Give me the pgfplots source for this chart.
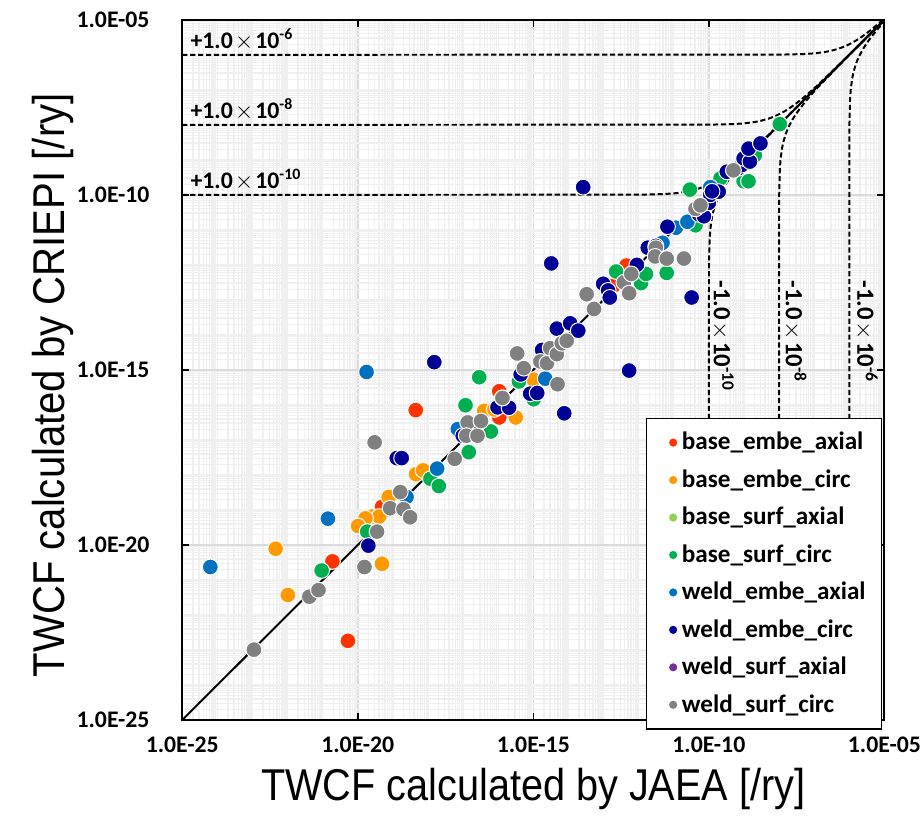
\documentclass[border=0pt]{standalone}
\usepackage{graphicx}
\usepackage{pgfplots}
\pgfplotsset{compat=1.18}
\usepackage{fontspec}
\setmainfont{Carlito}
\newfontfamily\labelfont{Liberation Sans}
\definecolor{c1}{HTML}{FF3300}
\definecolor{c2}{HTML}{FF9900}
\definecolor{c3}{HTML}{92D050}
\definecolor{c4}{HTML}{00B050}
\definecolor{c5}{HTML}{0070C0}
\definecolor{c6}{HTML}{000096}
\definecolor{c7}{HTML}{7030A0}
\definecolor{c8}{HTML}{808080}
\pgfplotsset{
  pt/.style={only marks, mark=*, color=#1, mark size=4pt, mark options={draw=white, line width=0.5pt}},
  refdash/.style={forget plot, black, line width=1pt, dash pattern=on 2.6pt off 1.4pt},
}
\begin{document}
\def\minorlist{1e-25}
\foreach \e in {-25,...,-6}{\foreach \m in {1,...,9}{\xdef\minorlist{\minorlist,\m e\e}}}
\begin{tikzpicture}
\path[use as bounding box] (-87.5pt,-50.5pt) rectangle (374.5pt,363.5pt);
\begin{axis}[
  at={(0,0)}, anchor=south west,
  xmode=log, ymode=log,
  scale only axis, width=354.5pt, height=353.5pt,
  xmin=1e-25, xmax=1e-5, ymin=1e-25, ymax=1e-5,
  xtick={1e-25,1e-20,1e-15,1e-10,1e-5},
  ytick={1e-25,1e-20,1e-15,1e-10,1e-5},
  xticklabels={1.0E-25,1.0E-20,1.0E-15,1.0E-10,1.0E-05},
  yticklabels={1.0E-25,1.0E-20,1.0E-15,1.0E-10,1.0E-05},
  minor xtick/.expanded={\minorlist},
  minor ytick/.expanded={\minorlist},
  major tick length=3.5pt, minor tick length=0pt,
  tick style={black, line width=0.8pt},
  grid=both,
  major grid style={draw=gray!28, line width=0.8pt},
  minor grid style={draw=gray!12, line width=0.7pt},
  tick align=inside,
  axis line style={black, line width=1pt},
  tick label style={font=\bfseries\fontsize{12}{14}\selectfont},
  xticklabel style={yshift=-5pt},
  yticklabel style={xshift=-13pt},
  xlabel={\labelfont\fontsize{22.5}{27}\selectfont\scalebox{0.89}[1]{TWCF calculated by JAEA [/ry]}},
  ylabel={\labelfont\fontsize{22.5}{27}\selectfont\scalebox{0.9}[1]{TWCF calculated by CRIEPI [/ry]}},
  xlabel style={at={(axis description cs:0.5,-0.099)}, anchor=center},
  ylabel style={at={(axis description cs:-0.1834,0.478)}, anchor=center},
  legend style={at={(axis description cs:0.997,-0.014)}, anchor=south east, draw=black, line width=0.8pt, fill=white,
    font=\bfseries\fontsize{12.7}{14}\selectfont, row sep=4.5pt, inner xsep=6pt, inner ysep=5pt},
  legend cell align=left,
  legend image code/.code={\path (0cm,0cm); \draw[#1, mark size=2.4pt] plot coordinates {(0.25cm,0cm)};},
]
% reference lines
\addplot[forget plot, black, line width=1pt] coordinates {(1e-25,1e-25) (1e-5,1e-5)};
\addplot[refdash] coordinates {(1e-25,1e-6) (1e-8,1.01e-6) (5e-8,1.05e-6) (1e-7,1.1e-6) (2e-7,1.2e-6) (3e-7,1.3e-6) (5e-7,1.5e-6) (7e-7,1.7e-6) (1e-6,2e-6) (1.5e-6,2.5e-6) (2e-6,3e-6) (3e-6,4e-6) (4e-6,5e-6) (6e-6,7e-6) (9e-6,1e-5)};
\addplot[refdash] coordinates {(1e-25,1e-8) (1e-10,1.01e-8) (5e-10,1.05e-8) (1e-9,1.1e-8) (2e-9,1.2e-8) (3e-9,1.3e-8) (5e-9,1.5e-8) (7e-9,1.7e-8) (1e-8,2e-8) (1.5e-8,2.5e-8) (2e-8,3e-8) (3e-8,4e-8) (5e-8,6e-8) (1e-7,1.1e-7) (2e-7,2.1e-7) (1e-6,1.01e-6) (1e-5,1.001e-5)};
\addplot[refdash] coordinates {(1e-25,1e-10) (1e-12,1.01e-10) (5e-12,1.05e-10) (1e-11,1.1e-10) (2e-11,1.2e-10) (3e-11,1.3e-10) (5e-11,1.5e-10) (7e-11,1.7e-10) (1e-10,2e-10) (1.5e-10,2.5e-10) (2e-10,3e-10) (3e-10,4e-10) (5e-10,6e-10) (1e-9,1.1e-9) (2e-9,2.1e-9) (1e-8,1.01e-8) (1e-5,1.00001e-5)};
\addplot[refdash] coordinates {(1e-6,1e-25) (1.01e-6,1e-8) (1.05e-6,5e-8) (1.1e-6,1e-7) (1.2e-6,2e-7) (1.3e-6,3e-7) (1.5e-6,5e-7) (1.7e-6,7e-7) (2e-6,1e-6) (2.5e-6,1.5e-6) (3e-6,2e-6) (4e-6,3e-6) (5e-6,4e-6) (7e-6,6e-6) (1e-5,9e-6)};
\addplot[refdash] coordinates {(1e-8,1e-25) (1.01e-8,1e-10) (1.05e-8,5e-10) (1.1e-8,1e-9) (1.2e-8,2e-9) (1.3e-8,3e-9) (1.5e-8,5e-9) (1.7e-8,7e-9) (2e-8,1e-8) (2.5e-8,1.5e-8) (3e-8,2e-8) (4e-8,3e-8) (6e-8,5e-8) (1.1e-7,1e-7) (2.1e-7,2e-7) (1.01e-6,1e-6) (1.001e-5,1e-5)};
\addplot[refdash] coordinates {(1e-10,1e-25) (1.01e-10,1e-12) (1.05e-10,5e-12) (1.1e-10,1e-11) (1.2e-10,2e-11) (1.3e-10,3e-11) (1.5e-10,5e-11) (1.7e-10,7e-11) (2e-10,1e-10) (2.5e-10,1.5e-10) (3e-10,2e-10) (4e-10,3e-10) (6e-10,5e-10) (1.1e-9,1e-9) (2.1e-9,2e-9) (1.01e-8,1e-8) (1.00001e-5,1e-5)};
% data
\addplot[pt=c1] coordinates {(4.47e-19,7.08e-17) (1.9e-21,3.39e-21) (5.25e-21,1.82e-23) (4.9e-20,1.23e-19) (1.07e-16,4.37e-17) (1.07e-16,2.45e-16) (4.47e-13,9.55e-13) (1.95e-13,2.57e-13)};
\addlegendentry{base\_embe\_axial}
\addplot[pt=c2] coordinates {(4.57e-23,7.76e-21) (1.02e-22,3.72e-22) (4.9e-20,2.88e-21) (7.59e-20,2.34e-19) (2.57e-20,6.46e-20) (4.07e-20,6.46e-20) (1.66e-20,5.75e-20) (1.02e-20,3.47e-20) (4.57e-19,1.05e-18) (7.24e-19,1.35e-18) (3.98e-17,6.76e-17) (7.76e-17,7.41e-17) (3.16e-16,4.37e-17) (7.08e-18,1.82e-17) (1.02e-15,5.25e-16)};
\addlegendentry{base\_embe\_circ}
\addplot[pt=c3] coordinates {(3.09e-12,3.09e-12) (1.58e-15,1.74e-15)};
\addlegendentry{base\_surf\_axial}
\addplot[pt=c4] coordinates {(9.33e-22,1.86e-21) (1.86e-20,2.4e-20) (1.17e-18,7.76e-19) (2.04e-18,4.79e-19) (1.45e-17,4.47e-18) (1.17e-17,9.77e-17) (2.88e-17,6.17e-16) (6.17e-17,1.74e-17) (3.89e-16,4.68e-16) (1.02e-15,1.45e-16) (2.29e-13,6.46e-13) (1.17e-12,3.02e-13) (1.62e-12,5.5e-13) (6.31e-12,5.89e-13) (4.17e-11,1.35e-11) (2.88e-11,1.41e-10) (2.14e-10,2.95e-10) (9.77e-10,2.45e-10) (1.35e-9,2.45e-10) (2.04e-9,1.35e-9) (1.05e-8,1.05e-8)};
\addlegendentry{base\_surf\_circ}
\addplot[pt=c5] coordinates {(6.31e-25,2.34e-21) (1.41e-21,5.62e-20) (1.78e-20,8.71e-16) (2.45e-19,2.34e-19) (1.82e-18,1.51e-18) (7.08e-18,2.04e-17) (2.19e-15,5.62e-16) (4.79e-12,4.27e-12) (1.15e-11,1.15e-11) (2.45e-11,1.7e-11) (1.1e-10,1.66e-10)};
\addlegendentry{weld\_embe\_axial}
\addplot[pt=c6] coordinates {(2.0e-20,9.55e-21) (1.29e-19,3.02e-18) (1.78e-19,3.02e-18) (1.51e-18,1.66e-15) (9.77e-18,1.32e-17) (9.55e-17,8.51e-17) (2.04e-16,8.32e-17) (8.13e-16,2.09e-16) (1.29e-15,2.19e-16) (4.37e-16,7.41e-16) (1.78e-15,3.72e-15) (7.59e-15,5.75e-17) (3.24e-15,1.1e-12) (4.68e-15,1.51e-14) (1.12e-14,2.14e-14) (1.91e-14,1.32e-14) (2.63e-14,1.66e-10) (9.77e-14,2.88e-13) (1.35e-13,1.86e-13) (1.51e-13,1.17e-13) (5.37e-13,9.55e-16) (8.91e-13,1.0e-12) (1.82e-12,3.09e-12) (3.09e-12,3.47e-12) (6.61e-12,1.23e-11) (3.24e-11,1.17e-13) (5.25e-11,2.75e-11) (7.24e-11,2.45e-11) (1.0e-10,5.89e-11) (1.1e-10,1.0e-10) (1.91e-10,1.23e-10) (1.23e-10,1.26e-10) (3.24e-10,4.57e-10) (6.92e-10,5.75e-10) (8.71e-10,7.08e-10) (9.77e-10,1.1e-9) (1.48e-9,8.91e-10) (1.35e-9,2.09e-9) (2.95e-9,2.95e-9)};
\addlegendentry{weld\_embe\_circ}
\addplot[pt=c7] coordinates {(1.32e-16,1.58e-16)};
\addlegendentry{weld\_surf\_axial}
\addplot[pt=c8] coordinates {(1.1e-23,1.02e-23) (4.17e-22,3.31e-22) (7.59e-22,5.13e-22) (1.55e-20,2.34e-21) (3.55e-20,2.4e-20) (3.02e-20,8.51e-18) (8.32e-20,1.12e-19) (2.0e-19,1.05e-19) (3.09e-19,6.17e-20) (1.62e-19,3.24e-19) (5.75e-18,2.88e-18) (1.35e-17,3.16e-17) (1.23e-17,1.32e-17) (2.57e-17,1.32e-17) (3.24e-17,3.47e-17) (1.32e-16,1.58e-16) (3.47e-16,2.95e-15) (5.37e-16,1.12e-15) (4.9e-15,3.89e-16) (1.58e-15,1.74e-15) (2.45e-15,1.55e-15) (3.02e-15,4.17e-15) (4.68e-15,2.82e-15) (6.46e-15,5.75e-15) (8.91e-15,6.76e-15) (3.31e-14,1.45e-13) (5.37e-14,5.5e-14) (3.8e-13,3.16e-13) (5.37e-13,1.55e-13) (6.17e-13,5.5e-13) (3.09e-12,3.09e-12) (2.95e-12,1.74e-12) (6.31e-12,1.51e-12) (1.95e-11,1.51e-12) (4.17e-11,3.98e-11) (5.75e-11,5.01e-11) (5.01e-10,5.01e-10)};
\addlegendentry{weld\_surf\_circ}
% annotations
\node[anchor=south west, inner sep=2pt, font=\bfseries\fontsize{12}{14}\selectfont] at (axis cs:1.3e-25,1e-6) {+1.0\kern1pt{\mdseries$\times$}\kern1pt10\textsuperscript{-6}};
\node[anchor=south west, inner sep=2pt, font=\bfseries\fontsize{12}{14}\selectfont] at (axis cs:1.3e-25,1e-8) {+1.0\kern1pt{\mdseries$\times$}\kern1pt10\textsuperscript{-8}};
\node[anchor=south west, inner sep=2pt, font=\bfseries\fontsize{12}{14}\selectfont] at (axis cs:1.3e-25,1e-10) {+1.0\kern1pt{\mdseries$\times$}\kern1pt10\textsuperscript{-10}};
\node[rotate=-90, anchor=west, inner sep=0pt, font=\bfseries\fontsize{12.5}{14}\selectfont] at (axis cs:2.5e-10,3.63e-13) {-1.0\kern1pt{\mdseries$\times$}\kern1pt10\textsuperscript{-10}};
\node[rotate=-90, anchor=west, inner sep=0pt, font=\bfseries\fontsize{12.5}{14}\selectfont] at (axis cs:2.9e-8,3.63e-13) {-1.0\kern1pt{\mdseries$\times$}\kern1pt10\textsuperscript{-8}};
\node[rotate=-90, anchor=west, inner sep=0pt, font=\bfseries\fontsize{12.5}{14}\selectfont] at (axis cs:3.1e-6,3.63e-13) {-1.0\kern1pt{\mdseries$\times$}\kern1pt10\textsuperscript{-6}};
\end{axis}
\end{tikzpicture}
\end{document}
